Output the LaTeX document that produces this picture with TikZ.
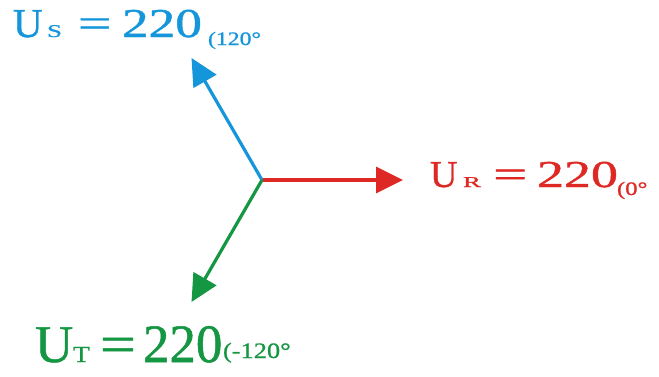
\documentclass[tikz,border=0pt]{standalone}
\usepackage{fontspec}
\usepackage{graphicx}
\setmainfont{Liberation Serif}
\newfontfamily\semib[UprightFeatures={FakeBold=0.9}]{Liberation Serif}
\usetikzlibrary{arrows.meta}
\definecolor{cblue}{RGB}{22,150,218}
\definecolor{cred}{RGB}{222,40,36}
\definecolor{cgreen}{RGB}{20,150,66}
\newcommand\sxx[2]{\scalebox{#1}[1]{#2}}
\newcommand\fs[1]{\fontsize{#1}{#1}\selectfont}
\begin{document}
\begin{tikzpicture}[x=1pt,y=-1pt,
  lab/.style={anchor=base west,inner sep=0pt,outer sep=0pt,font=\semib},
  vec/.style={line width=3.2pt,-{Triangle[length=27pt,width=26pt]}}]
\useasboundingbox (0,0) rectangle (659,376);
\coordinate (O) at (262,180);
\coordinate (R) at (403,180);
\coordinate (S) at (191.5,58);
\coordinate (T) at (191.5,302);
\draw[vec,cred] (O) -- (R);
\draw[vec,cblue] (O) -- (S);
\draw[vec,cgreen] (O) -- (T);
\node[lab,text=cblue] (labS) at (13,37) {\fs{41}\rlap{U}\hspace*{34pt}\rlap{\fs{18}\sxx{1.5}{S}}\hspace*{31pt}\rlap{\sxx{1.45}{=}}\hspace*{44pt}\rlap{\sxx{1.3}{220}}\hspace*{86pt}\raisebox{-8pt}{\fs{19}\sxx{1.25}{(120°}}};
\node[lab,text=cred] (labR) at (430,187) {\fs{38}\rlap{U}\hspace*{33pt}\rlap{\fs{15}\sxx{1.8}{R}}\hspace*{30pt}\rlap{\sxx{1.6}{=}}\hspace*{44pt}\rlap{\sxx{1.42}{220}}\hspace*{80pt}\raisebox{-8pt}{\fs{19}\sxx{1.3}{(0°}}};
\node[lab,text=cgreen] (labT) at (35,362) {\fs{53}\rlap{U}\hspace*{38pt}\rlap{\fs{23}\sxx{1.2}{T}}\hspace*{27pt}\rlap{\sxx{1.2}{=}}\hspace*{43pt}\rlap{\fs{54}\sxx{0.98}{220}}\hspace*{80pt}\raisebox{4pt}{\fs{22}\sxx{1.2}{(-120°}}};
\end{tikzpicture}
\end{document}
